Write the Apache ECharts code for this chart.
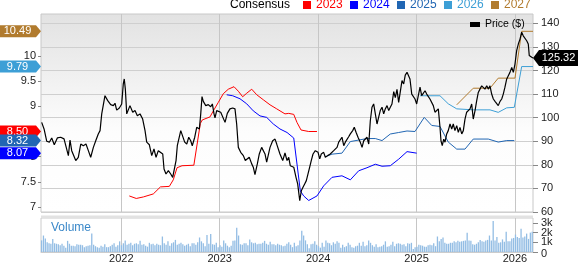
<!DOCTYPE html>
<html><head><meta charset="utf-8">
<script src="https://cdn.jsdelivr.net/npm/echarts@6/dist/echarts.min.js"></script>
<style>html,body{margin:0;padding:0;background:#fff}#c{width:579px;height:264px}</style>
</head><body><div id="c"></div>
<script>
// ---- tick labels ----
const yearTicks = [2022, 2023, 2024, 2025, 2026];
const priceTicks = [60, 70, 80, 90, 100, 110, 120, 130, 140];
const epsTicks = [7, 7.5, 8, 8.5, 9, 9.5, 10];
const volTicks = [0, 1, 2, 3];
const volLabelsA = [2];
const volLabelsB = [1, 3];
const volLabelsC = [0];
const xRange = [2021.184, 2026.183];

// ---- price (decimal year, $) ----
const priceT = [2021.191,2021.215,2021.242,2021.269,2021.293,2021.319,2021.350,2021.384,2021.418,2021.438,2021.462,2021.479,2021.496,2021.512,2021.537,2021.563,2021.588,2021.614,2021.641,2021.665,2021.689,2021.716,2021.743,2021.766,2021.784,2021.801,2021.817,2021.834,2021.862,2021.892,2021.919,2021.936,2021.953,2021.980,2022.004,2022.020,2022.030,2022.041,2022.055,2022.071,2022.088,2022.116,2022.139,2022.163,2022.190,2022.217,2022.241,2022.258,2022.285,2022.309,2022.332,2022.353,2022.376,2022.393,2022.421,2022.434,2022.454,2022.478,2022.502,2022.522,2022.535,2022.556,2022.569,2022.586,2022.604,2022.624,2022.644,2022.665,2022.685,2022.705,2022.721,2022.746,2022.766,2022.782,2022.793,2022.807,2022.820,2022.833,2022.858,2022.884,2022.908,2022.925,2022.942,2022.952,2022.969,2022.986,2023.010,2023.030,2023.054,2023.077,2023.104,2023.132,2023.155,2023.172,2023.189,2023.213,2023.240,2023.260,2023.280,2023.300,2023.325,2023.341,2023.358,2023.382,2023.402,2023.426,2023.443,2023.460,2023.477,2023.494,2023.511,2023.538,2023.562,2023.579,2023.595,2023.612,2023.640,2023.663,2023.684,2023.701,2023.717,2023.734,2023.752,2023.775,2023.792,2023.813,2023.829,2023.846,2023.863,2023.880,2023.897,2023.914,2023.930,2023.948,2023.971,2023.999,2024.016,2024.032,2024.056,2024.073,2024.097,2024.123,2024.141,2024.158,2024.174,2024.192,2024.209,2024.225,2024.242,2024.260,2024.276,2024.293,2024.310,2024.327,2024.351,2024.367,2024.385,2024.405,2024.428,2024.446,2024.463,2024.479,2024.496,2024.514,2024.530,2024.547,2024.564,2024.581,2024.598,2024.615,2024.631,2024.649,2024.666,2024.682,2024.700,2024.717,2024.733,2024.750,2024.768,2024.784,2024.801,2024.818,2024.835,2024.852,2024.869,2024.885,2024.903,2024.916,2024.933,2024.951,2024.967,2024.984,2025.001,2025.018,2025.035,2025.052,2025.068,2025.086,2025.103,2025.119,2025.136,2025.154,2025.170,2025.187,2025.205,2025.221,2025.238,2025.248,2025.261,2025.276,2025.289,2025.306,2025.322,2025.340,2025.357,2025.373,2025.390,2025.408,2025.424,2025.441,2025.459,2025.475,2025.492,2025.509,2025.526,2025.543,2025.560,2025.576,2025.594,2025.611,2025.627,2025.644,2025.662,2025.678,2025.695,2025.713,2025.729,2025.746,2025.763,2025.780,2025.797,2025.814,2025.830,2025.848,2025.865,2025.881,2025.898,2025.916,2025.932,2025.949,2025.967,2025.983,2026.000,2026.017,2026.034,2026.051,2026.068,2026.084,2026.102,2026.119,2026.135,2026.145,2026.170,2026.183];
const priceV = [98.0,95.2,90.0,89.6,91.4,88.5,91.4,91.7,91.0,90.2,83.9,90.5,86.0,85.3,81.8,83.2,88.8,88.1,88.8,86.0,83.2,87.4,90.5,93.1,94.5,101.6,102.3,109.3,107.2,105.5,105.1,106.1,103.2,104.1,105.8,114.3,116.4,112.1,101.6,102.3,105.1,102.3,103.0,100.8,101.6,99.4,94.5,89.6,88.5,83.9,86.7,83.2,86.0,86.0,84.6,78.2,76.1,77.5,76.1,74.7,74.0,81.8,88.1,88.8,94.5,94.5,89.6,88.8,91.7,90.2,88.1,91.7,95.9,96.6,95.2,101.6,108.9,106.9,105.1,105.5,104.6,105.8,101.6,99.9,103.0,103.7,102.3,101.8,98.0,101.8,103.7,104.1,103.7,97.3,87.4,85.3,83.9,81.8,81.1,83.2,80.4,79.0,75.8,80.4,84.6,87.4,88.1,84.6,81.1,81.8,87.4,90.2,90.9,88.8,88.1,84.6,81.8,85.0,81.8,83.2,79.6,80.4,79.0,74.7,71.9,64.8,69.0,70.5,71.9,73.3,74.0,79.0,81.8,84.6,86.0,85.3,82.5,84.6,85.3,83.2,83.9,84.6,83.9,86.0,86.7,87.4,89.6,88.8,91.7,88.1,89.6,90.2,91.9,93.1,94.5,95.9,93.8,91.7,89.6,87.4,90.2,90.9,91.7,88.8,98.7,104.4,105.8,101.6,97.3,100.2,103.0,104.4,101.6,103.7,105.1,103.0,104.4,105.8,111.0,108.5,112.0,106.5,107.0,115.7,114.3,118.0,119.2,118.5,116.4,110.0,110.7,107.9,105.8,105.1,112.9,109.3,110.0,111.4,110.0,110.7,107.9,108.6,105.1,102.3,102.7,103.7,95.9,90.2,88.1,90.9,89.6,93.1,94.5,97.3,95.2,97.3,94.5,96.6,93.8,95.9,93.1,94.5,99.4,102.3,101.6,103.7,105.8,99.4,103.0,107.2,110.7,112.1,113.5,112.9,112.1,113.5,112.1,113.5,110.0,107.9,106.9,106.1,105.1,106.9,107.9,110.0,112.9,116.4,117.8,119.2,121.3,119.2,122.7,128.4,131.2,133.3,136.2,134.7,134.1,132.6,131.2,126.3,125.6,125.32];

// ---- consensus EPS estimates (decimal year, $) ----
const eps2023T = [2022.081,2022.152,2022.224,2022.325,2022.398,2022.488,2022.528,2022.566,2022.617,2022.737,2022.803,2022.823,2022.901,2022.935,2022.986,2023.036,2023.087,2023.145,2023.189,2023.233,2023.274,2023.325,2023.376,2023.443,2023.511,2023.579,2023.663,2023.701,2023.752,2023.785,2023.826,2023.904,2023.988];
const eps2023V = [7.22,7.17,7.20,7.26,7.40,7.41,7.54,7.78,7.82,7.83,8.66,8.73,8.79,8.91,9.08,9.25,9.34,9.39,9.30,9.19,9.26,9.34,9.23,9.13,9.03,8.95,8.85,8.86,8.84,8.68,8.53,8.50,8.50];
const eps2024T = [2023.071,2023.132,2023.206,2023.274,2023.341,2023.409,2023.477,2023.544,2023.612,2023.684,2023.752,2023.819,2023.853,2023.904,2023.988,2024.056,2024.141,2024.242,2024.327,2024.412,2024.496,2024.581,2024.649,2024.733,2024.818,2024.903,2025.001];
const eps2024V = [9.23,9.21,9.15,9.05,8.91,8.81,8.78,8.65,8.55,8.48,8.37,7.32,7.22,7.13,7.22,7.42,7.59,7.62,7.54,7.72,7.78,7.85,7.81,7.82,7.95,8.10,8.07];
const eps2025T = [2024.073,2024.141,2024.242,2024.327,2024.412,2024.496,2024.581,2024.649,2024.733,2024.818,2024.903,2024.984,2025.078,2025.154,2025.238,2025.322,2025.408,2025.492,2025.576,2025.729,2025.830,2025.916,2025.993];
const eps2025V = [8.00,8.05,8.07,8.30,8.33,8.36,8.36,8.32,8.45,8.48,8.51,8.50,8.78,8.62,8.60,8.29,8.15,8.15,8.35,8.35,8.29,8.32,8.32];
const eps2026T = [2025.035,2025.238,2025.322,2025.408,2025.576,2025.746,2025.830,2025.916,2025.993,2026.068,2026.183];
const eps2026V = [9.21,9.21,9.05,8.95,8.93,8.93,8.88,8.97,8.98,9.79,9.79];
const eps2027T = [2025.408,2025.576,2025.746,2025.830,2026.000,2026.068,2026.183];
const eps2027V = [9.03,9.36,9.36,9.56,9.56,10.49,10.49];

// ---- weekly volume (thousands), first to last week of the window ----
const volStart = 2021.19, volEnd = 2026.175;
const volume = [1.2,1.7,1.4,1.0,0.9,0.85,1.35,0.9,0.85,0.8,0.7,0.85,
0.65,0.45,1.15,0.85,0.65,0.65,0.6,0.8,0.75,
0.75,0.7,0.5,0.6,0.65,0.7,1.9,0.75,0.6,0.5,0.45,
0.65,0.55,0.8,0.5,0.5,0.6,0.75,0.9,0.55,0.7,
1.1,0.7,0.9,1.2,0.75,0.85,0.95,0.7,0.85,0.9,0.8,
1.15,0.75,0.8,0.65,0.55,0.95,0.8,0.85,0.7,0.85,
0.75,0.7,1.6,0.9,0.75,1.1,0.65,0.9,1.0,1.25,0.75,
0.85,0.95,0.8,0.65,0.75,0.85,0.6,0.9,0.9,0.75,1.0,
1.5,1.1,0.9,0.6,1.75,0.85,1.85,0.8,0.75,0.95,0.5,
0.7,0.55,1.2,0.9,0.65,0.5,0.65,1.15,1.2,2.5,1.7,
0.8,0.75,0.9,0.9,0.7,1.3,1.0,0.9,0.95,0.8,0.85,
0.85,0.95,1.15,0.85,0.75,1.05,0.8,0.8,0.7,0.85,0.75,
0.7,0.6,0.65,0.85,1.0,
0.75,0.5,0.95,0.6,0.7,1.2,2.2,1.7,1.2,
0.8,0.4,0.8,0.85,1.1,0.75,0.6,0.45,0.95,0.55,
1.2,0.95,0.9,0.7,1.0,0.85,1.1,0.95,0.45,0.75,
0.5,0.6,0.95,0.75,0.5,0.45,0.6,0.65,0.95,0.65,1.05,
0.6,0.7,1.2,0.95,0.7,0.55,0.8,0.5,0.55,0.6,0.75,
1.1,0.55,0.6,0.75,1.05,0.6,0.85,0.9,0.85,0.75,0.8,0.6,
0.9,0.85,0.95,0.3,0.5,0.55,0.75,0.7,0.65,0.55,0.55,
0.7,0.75,0.7,0.9,0.6,1.6,1.1,1.35,1.5,0.95,0.85,
0.85,0.95,0.95,1.1,1.0,1.15,1.05,1.1,1.15,1.2,2.0,
1.2,1.15,0.8,0.75,0.85,1.0,1.25,1.1,1.05,1.2,1.25,
1.7,1.2,3.2,1.2,1.55,0.95,1.0,1.3,1.05,2.1,1.1,
1.1,1.4,1.45,1.8,1.55,1.45,2.4,1.5,1.6,1.9,1.35,2.0,2.1];

const FONT = 'Liberation Sans, Arial, Helvetica, sans-serif';
const C = {e23:'#ff0000', e24:'#0000ff', e25:'#2166b3', e26:'#3d9fd6', e27:'#b17b2e', price:'#000000', vol:'#93bde4'};
const zip = (t, v) => t.map((x, i) => [x, v[i]]);
const volStep = (volEnd - volStart) / (volume.length - 1);
const volData = volume.map((v, i) => [volStart + i * volStep, v]);

const leftTag = 'path://M0,0 L36,0 L41,6 L36,12 L0,12 Z';
const rightTag = 'path://M0,8 L6,0 L45,0 L45,16 L6,16 Z';
function epsTag(vals, color, z) {
  const last = vals[vals.length - 1];
  return {
    z: z, silent: true, symbol: leftTag, symbolSize: [41, 12], symbolOffset: [-20.5, 0],
    itemStyle: {color: color},
    label: {show: true, formatter: '{c}', color: '#fff', fontSize: 11, fontFamily: FONT, offset: [-3, 0]},
    data: [{coord: [xRange[0], last], value: last.toFixed(2)}]
  };
}
function epsSeries(name, t, v, color, z) {
  return {name: name, type: 'line', xAxisIndex: 0, yAxisIndex: 0, data: zip(t, v), symbol: 'none',
    lineStyle: {color: color, width: 1}, itemStyle: {color: color}, z: 3, animation: false,
    markPoint: epsTag(v, color, z)};
}
const lastPrice = priceV[priceV.length - 1];
const axisLbl = {fontSize: 11, color: '#222', fontFamily: FONT, showMinLabel: true, showMaxLabel: true, hideOverlap: false};
const volFmt = v => (v === 0 ? '0' : v + 'k');
function volAxis(grid, labels, ticks) {
  return {type: 'value', gridIndex: grid, position: 'right', offset: 0, min: 0, max: 3.51,
    axisLine: {show: false}, splitLine: {show: false},
    axisTick: {show: ticks, length: 5, customValues: volTicks, lineStyle: {color: '#888'}},
    axisLabel: Object.assign({}, axisLbl, {customValues: labels, formatter: volFmt, margin: 8})};
}

const chart = echarts.init(document.getElementById('c'), null, {renderer: 'canvas'});
chart.setOption({
  animation: false,
  textStyle: {fontFamily: FONT},
  title: [
    {text: 'Consensus', left: 230, top: -1, padding: 0, textStyle: {fontSize: 12, fontWeight: 'normal', color: '#000', fontFamily: FONT}},
    {text: 'Volume', left: 51, top: 222, padding: 0, textStyle: {fontSize: 12, fontWeight: 'normal', color: '#3a88c9', fontFamily: FONT}}
  ],
  legend: [
    {left: 303, top: -1, padding: 0, itemWidth: 8, itemHeight: 8, itemGap: 7.3, icon: 'rect', selectedMode: false,
     textStyle: {fontSize: 12, fontFamily: FONT},
     data: [
       {name: '2023', textStyle: {color: C.e23}}, {name: '2024', textStyle: {color: C.e24}},
       {name: '2025', textStyle: {color: C.e25}}, {name: '2026', textStyle: {color: C.e26}},
       {name: '2027', textStyle: {color: C.e27}}]},
    {left: 470, top: 19, padding: 0, itemWidth: 10, itemHeight: 5, icon: 'rect', selectedMode: false,
     textStyle: {fontSize: 10.5, color: '#000', fontFamily: FONT}, data: ['Price ($)']}
  ],
  graphic: [{type: 'rect', left: 41, top: 215.5, shape: {width: 492, height: 2.5}, style: {fill: '#e2e2e2'}, silent: true}],
  grid: [
    {left: 41, right: 46, top: 14, height: 198, show: true, borderColor: '#c8c8c8', borderWidth: 1,
     backgroundColor: {type: 'linear', x: 0, y: 0, x2: 0, y2: 1,
       colorStops: [{offset: 0, color: '#e2e2e2'}, {offset: 0.6, color: '#fdfdfd'}, {offset: 1, color: '#ffffff'}]}},
    {left: 41, right: 46, top: 218, height: 36.3, show: true, borderColor: '#cccccc', borderWidth: 1, backgroundColor: '#ffffff'},
    {left: 41, right: 46, top: 218, height: 36.3, show: false}
  ],
  xAxis: [
    {type: 'value', gridIndex: 0, min: xRange[0], max: xRange[1],
     axisLine: {show: false}, axisTick: {show: false, customValues: yearTicks},
     axisLabel: {show: false, customValues: yearTicks},
     splitLine: {show: true, lineStyle: {color: '#c6c6c6', width: 1}}},
    {type: 'value', gridIndex: 1, min: xRange[0], max: xRange[1],
     axisLine: {show: true, lineStyle: {color: '#cccccc'}}, axisTick: {show: false, customValues: yearTicks},
     axisLabel: Object.assign({show: true, customValues: yearTicks, formatter: v => String(v), margin: 1}, axisLbl),
     splitLine: {show: true, lineStyle: {color: '#c6c6c6', width: 1}}},
    {type: 'value', gridIndex: 2, min: xRange[0], max: xRange[1], show: false}
  ],
  yAxis: [
    {type: 'value', gridIndex: 0, position: 'left', min: 6.901, max: 10.834,
     axisLine: {show: false}, splitLine: {show: false},
     axisTick: {show: true, length: 3, customValues: epsTicks, lineStyle: {color: '#888'}},
     axisLabel: Object.assign({customValues: epsTicks, formatter: v => String(v), margin: 5}, axisLbl)},
    {type: 'value', gridIndex: 0, position: 'right', min: 60, max: 143.94,
     axisLine: {show: false},
     splitLine: {show: true, lineStyle: {color: '#cfcfcf', width: 1}},
     axisTick: {show: true, length: 5, customValues: priceTicks, lineStyle: {color: '#888'}},
     axisLabel: Object.assign({customValues: priceTicks, formatter: v => String(v), margin: 8}, axisLbl)},
    volAxis(1, volLabelsA, true),
    volAxis(1, volLabelsB, false),
    volAxis(2, volLabelsC, false)
  ],
  series: [
    {name: 'Volume', type: 'bar', xAxisIndex: 1, yAxisIndex: 2, data: volData, barWidth: 1.3,
     itemStyle: {color: C.vol}, silent: true},
    epsSeries('2023', eps2023T, eps2023V, C.e23, 10),
    epsSeries('2024', eps2024T, eps2024V, C.e24, 11),
    epsSeries('2025', eps2025T, eps2025V, C.e25, 12),
    epsSeries('2026', eps2026T, eps2026V, C.e26, 13),
    epsSeries('2027', eps2027T, eps2027V, C.e27, 14),
    {name: 'Price ($)', type: 'line', xAxisIndex: 0, yAxisIndex: 1, data: zip(priceT, priceV), symbol: 'none',
     lineStyle: {color: C.price, width: 1.2}, itemStyle: {color: C.price}, z: 4,
     markPoint: {z: 15, silent: true, symbol: rightTag, symbolSize: [45, 16], symbolOffset: [22.5, 0],
       itemStyle: {color: '#000'},
       label: {show: true, formatter: '{c}', color: '#fff', fontSize: 11, fontFamily: FONT, offset: [3, 0]},
       data: [{coord: [xRange[1], lastPrice], value: lastPrice.toFixed(2)}]}}
  ]
});
</script>
</body></html>
